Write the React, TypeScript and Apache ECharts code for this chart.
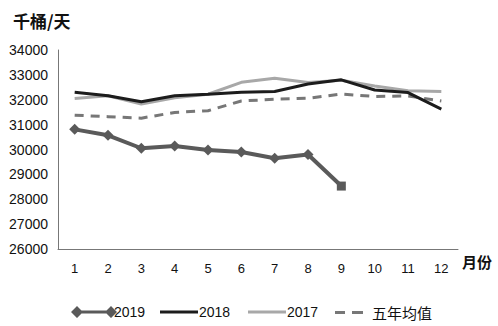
import React, { useEffect, useRef } from "react";
import * as echarts from "echarts";

const months = ["1", "2", "3", "4", "5", "6", "7", "8", "9", "10", "11", "12"];
const y2019 = [30810, 30570, 30050, 30140, 29980, 29900, 29650, 29800, 28530];
const y2018 = [32300, 32160, 31920, 32160, 32220, 32300, 32330, 32630, 32800, 32390, 32290, 31620];
const y2017 = [32050, 32160, 31830, 32080, 32220, 32700, 32860, 32690, 32780, 32550, 32360, 32330];
const y5avg = [31380, 31320, 31260, 31490, 31560, 31950, 32020, 32060, 32230, 32130, 32150, 31950];
const yTicks = { min: 26000, max: 34000, interval: 1000 };

const FONT = "'Liberation Sans', Arial, sans-serif";
const CJK = "'Noto Sans CJK SC', sans-serif";

export default function App() {
  const ref = useRef<HTMLDivElement>(null);
  useEffect(() => {
    const chart = echarts.init(ref.current!, null, { renderer: "svg" });
    const legendText = { fontFamily: FONT, fontSize: 14, color: "#111" };
    chart.setOption({
      animation: false,
      backgroundColor: "#fff",
      grid: { left: 58, top: 50, right: 40, bottom: 77 },
      title: {
        text: "千桶/天",
        left: 8,
        top: 7,
        textStyle: { fontFamily: CJK, fontSize: 17, fontWeight: "bold", color: "#111" },
      },
      graphic: [
        {
          type: "text",
          left: 462,
          top: 254,
          style: { text: "月份", font: `bold 15px ${CJK}`, fill: "#111" },
        },
      ],
      legend: [
        {
          left: 66,
          top: 300,
          itemWidth: 46,
          itemHeight: 12,
          itemGap: 0,
          textStyle: { ...legendText, padding: [0, 0, 0, -8] },
          data: [
            {
              name: "2019",
              icon: "path://M0,6 L6,0 L12,6 L6,12 Z M6,4.5 L40,4.5 L40,7.5 L6,7.5 Z M34,6 L40,0 L46,6 L40,12 Z",
              itemStyle: { color: "#5a5a5a" },
            },
          ],
        },
        {
          left: 155,
          top: 300,
          itemWidth: 38,
          itemHeight: 12,
          textStyle: { ...legendText, padding: [0, 0, 0, -4] },
          data: [{ name: "2018", icon: "path://M0,4.5 L38,4.5 L38,7.5 L0,7.5 Z", itemStyle: { color: "#1c1c1c" } }],
        },
        {
          left: 243,
          top: 300,
          itemWidth: 38,
          itemHeight: 12,
          textStyle: { ...legendText, padding: [0, 0, 0, -4] },
          data: [{ name: "2017", icon: "path://M0,4.5 L38,4.5 L38,7.5 L0,7.5 Z", itemStyle: { color: "#a8a8a8" } }],
        },
        {
          left: 330,
          top: 300,
          itemWidth: 28,
          itemHeight: 12,
          itemGap: 0,
          textStyle: { ...legendText, fontFamily: CJK, fontSize: 15, padding: [0, 0, 0, 4] },
          data: [
            {
              name: "五年均值",
              icon: "path://M0,4.5 L10,4.5 L10,7.5 L0,7.5 Z M17,4.5 L28,4.5 L28,7.5 L17,7.5 Z",
              itemStyle: { color: "#777" },
            },
          ],
        },
      ],
      xAxis: {
        type: "category",
        data: months,
        boundaryGap: true,
        axisLine: { lineStyle: { color: "#777", width: 1 } },
        axisTick: { show: false },
        axisLabel: { fontFamily: FONT, fontSize: 13, color: "#111", margin: 13 },
      },
      yAxis: {
        type: "value",
        min: yTicks.min,
        max: yTicks.max,
        interval: yTicks.interval,
        axisLine: { show: true, lineStyle: { color: "#777", width: 1 } },
        axisTick: { show: false },
        splitLine: { show: false },
        axisLabel: {
          fontFamily: FONT,
          fontSize: 14,
          color: "#111",
          margin: 10,
          align: "right",
          formatter: (v: number) => String(v),
        },
      },
      series: [
        {
          name: "2017",
          type: "line",
          data: y2017,
          symbol: "none",
          lineStyle: { color: "#a8a8a8", width: 3 },
          itemStyle: { color: "#a8a8a8" },
          z: 2,
        },
        {
          name: "2018",
          type: "line",
          data: y2018,
          symbol: "none",
          lineStyle: { color: "#1c1c1c", width: 3 },
          itemStyle: { color: "#1c1c1c" },
          z: 3,
        },
        {
          name: "五年均值",
          type: "line",
          data: y5avg,
          symbol: "none",
          lineStyle: { color: "#777", width: 3, type: [9, 7] },
          itemStyle: { color: "#777" },
          z: 2,
        },
        {
          name: "2019",
          type: "line",
          data: y2019.map((v, i) =>
            i === y2019.length - 1 ? { value: v, symbol: "rect", symbolSize: 9 } : v
          ),
          symbol: "diamond",
          symbolSize: 11,
          lineStyle: { color: "#5a5a5a", width: 4 },
          itemStyle: { color: "#5a5a5a" },
          z: 4,
        },
      ],
    });
    return () => chart.dispose();
  }, []);
  return <div ref={ref} style={{ width: 498, height: 326, position: "absolute", left: 0, top: 0 }} />;
}
